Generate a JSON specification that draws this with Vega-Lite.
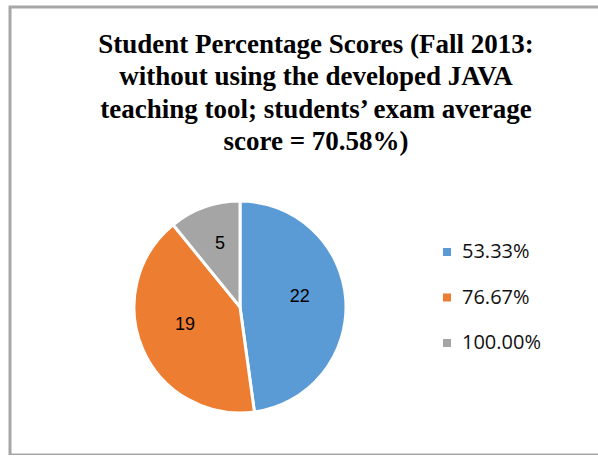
{
  "$schema": "https://vega.github.io/schema/vega-lite/v6.json",
  "autosize": "none",
  "padding": {"left": 10, "top": 7, "right": 0, "bottom": 0},
  "width": 612,
  "height": 448,
  "background": "white",
  "view": {"stroke": "#a6a6a6", "strokeWidth": 3, "fill": "white"},
  "title": {
    "text": ["Student Percentage Scores (Fall 2013:", "without using the developed JAVA", "teaching tool; students’ exam average", "score = 70.58%)"],
    "font": "Liberation Serif",
    "fontSize": 27,
    "fontWeight": "bold",
    "color": "#000000",
    "lineHeight": 32.5,
    "anchor": "middle",
    "baseline": "bottom",
    "offset": -176
  },
  "data": {
    "values": [
      {"score": "53.33%", "students": 22, "order": 1},
      {"score": "76.67%", "students": 19, "order": 2},
      {"score": "100.00%", "students": 5, "order": 3}
    ]
  },
  "encoding": {
    "theta": {"field": "students", "type": "quantitative", "stack": true},
    "order": {"field": "order", "type": "quantitative"},
    "color": {
      "field": "score",
      "type": "nominal",
      "scale": {"domain": ["53.33%", "76.67%", "100.00%"], "range": ["#5B9BD5", "#ED7D31", "#A5A5A5"]},
      "legend": {
        "title": null,
        "orient": "none",
        "legendX": 427,
        "legendY": 235,
        "symbolType": "square",
        "symbolSize": 64,
        "symbolStrokeWidth": 0,
        "labelFont": "Open Sans",
        "labelFontSize": 20,
        "labelColor": "#111111",
        "labelOffset": 5,
        "rowPadding": 25.5
      }
    }
  },
  "layer": [
    {
      "mark": {"type": "arc", "outerRadius": 106, "x": 230, "y": 300, "stroke": "white", "strokeWidth": 3}
    },
    {
      "mark": {"type": "text", "radius": 60, "x": 230, "y": 300, "dy": -6, "font": "Liberation Sans", "fontSize": 18, "fill": "#000000"},
      "encoding": {
        "text": {"field": "students", "type": "quantitative"},
        "color": {"value": "#000000"}
      }
    }
  ]
}
